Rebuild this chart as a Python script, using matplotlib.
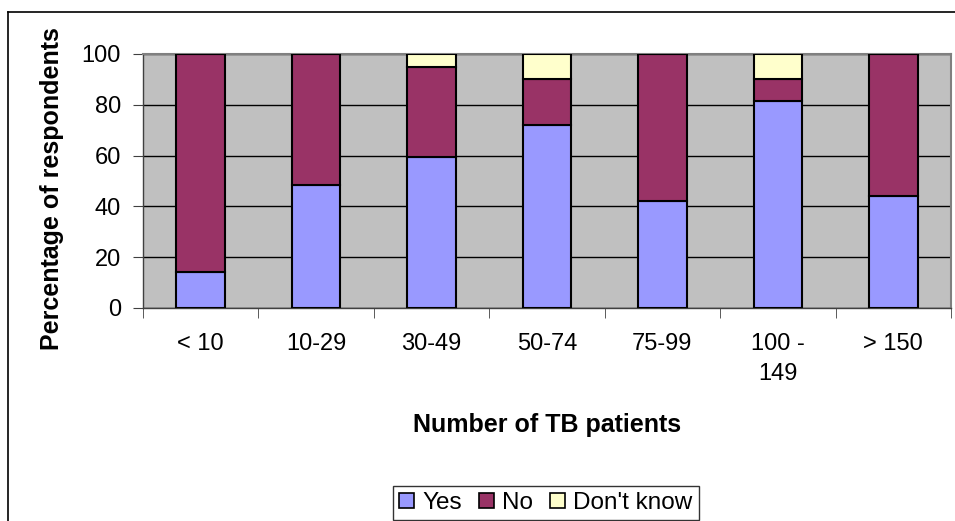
import matplotlib
matplotlib.use("Agg")
import matplotlib.pyplot as plt
from matplotlib.lines import Line2D
import numpy as np

plt.rcParams['font.family'] = ['Liberation Sans', 'DejaVu Sans']

categories = ["< 10", "10-29", "30-49", "50-74", "75-99", "100 -\n149", "> 150"]
yes = [14, 48.6, 59.6, 72, 42, 81.5, 44]
no = [86, 51.4, 35.4, 18, 58, 8.5, 56]
dont_know = [0, 0, 5, 10, 0, 10, 0]

W, H = 955, 521
fig = plt.figure(figsize=(W/100, H/100), dpi=100)
ax = fig.add_axes([143/W, 1 - 308/H, (951 - 143)/W, (308 - 54)/H])

ind = np.arange(len(categories))
w = 0.42
yes = np.array(yes); no = np.array(no); dk = np.array(dont_know)
ax.bar(ind, yes, w, color="#9999FF", edgecolor="black", linewidth=1.5, label="Yes", zorder=3)
ax.bar(ind, no, w, bottom=yes, color="#993366", edgecolor="black", linewidth=1.5, label="No", zorder=3)
ax.bar(ind, dk, w, bottom=yes + no, color="#FFFFCC", edgecolor="black", linewidth=1.5, label="Don't know", zorder=3)

ax.set_facecolor("#C0C0C0")
ax.set_xlim(-0.5, len(categories) - 0.5)
ax.set_ylim(0, 100)
ax.set_yticks([0, 20, 40, 60, 80, 100])
ax.yaxis.grid(True, color="black", linewidth=1.0, zorder=1)
ax.set_axisbelow(True)

ax.set_xticks(ind)
ax.set_xticklabels(categories, fontsize=17, va="top", linespacing=1.45)
ax.tick_params(axis="x", length=0, pad=18)
ax.set_xticks(np.arange(-0.5, len(categories)), minor=True)
ax.tick_params(axis="x", which="minor", length=7, direction="out", color="#404040")
ax.tick_params(axis="y", labelsize=17, length=7, direction="out", color="#404040", pad=9)

for s in ["top", "right"]:
    ax.spines[s].set_color("#808080")
    ax.spines[s].set_linewidth(1.5)
for s in ["left", "bottom"]:
    ax.spines[s].set_color("#404040")
    ax.spines[s].set_linewidth(1.0)

ax.set_xlabel("Number of TB patients", fontsize=18, fontweight="bold", va="center")
ax.xaxis.set_label_coords(0.5, -(425 - 308) / 254)
ax.set_ylabel("Percentage of respondents", fontsize=18, fontweight="bold", va="center")
ax.yaxis.set_label_coords(-(143 - 52) / 808, 1 - (189 - 54) / 254)

leg = fig.legend(loc="upper center", bbox_to_anchor=(546/W, 1 - 486/H), ncol=3, fontsize=17.5,
                 frameon=True, fancybox=False, edgecolor="black", handlelength=0.6,
                 handleheight=0.6, handletextpad=0.35, columnspacing=0.7, borderpad=0.25,
                 borderaxespad=0)
leg.get_frame().set_linewidth(1.0)
for h in leg.legend_handles:
    h.set_linewidth(1.2)

# outer chart border
fig.add_artist(Line2D([8/W, 8/W], [0, 1 - 12/H], color="black", linewidth=1.2, transform=fig.transFigure))
fig.add_artist(Line2D([8/W, 1], [1 - 12/H, 1 - 12/H], color="black", linewidth=1.2, transform=fig.transFigure))

fig.savefig("out.png", dpi=100)
